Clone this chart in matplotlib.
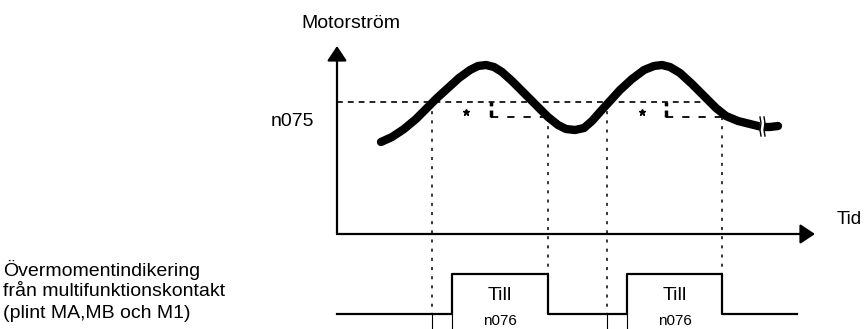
import matplotlib
matplotlib.use('Agg')
import matplotlib.pyplot as plt

plt.rcParams['font.family'] = ['Liberation Sans', 'DejaVu Sans']

# motor current curve (time, current)
curve_t = [44, 55, 67, 79, 90, 100, 111, 122, 133, 141, 149, 157, 165, 175, 187,
           199, 211, 221, 229, 238, 247, 255, 263, 273, 283, 295, 307, 317, 325,
           333, 343, 355, 367, 379, 389, 401, 413, 425, 433, 441]
curve_i = [92, 97, 105, 115, 126, 136, 146, 156, 164, 168, 169, 167, 162, 153, 141,
           129, 117, 109, 105, 104, 106, 113, 122, 133, 144, 155, 164, 168, 169,
           167, 161, 150, 138, 126, 118, 113, 110, 107, 107, 108]

n075_level = 132      # torque detection level
reset_level = 117     # level where the signal drops
up_times = [95, 270]      # curve crosses n075 going up
down_times = [211, 385]   # curve falls below reset level
n076_delay = 20
hyst_marks = [154, 329]
star_marks = [129, 305]
break_t = 425

sig_low = -80
sig_high = -40
time_end = 478
current_top = 188
sig_end = 460

fig = plt.figure(figsize=(8.64, 3.29), dpi=100)
ax = fig.add_axes([0, 0, 1, 1])
ax.set_xlim(-337, 527)
ax.set_ylim(-95, 234)
ax.axis('off')

# axes with arrows
arr = dict(arrowstyle='-|>,head_length=0.45,head_width=0.3', lw=1.6,
           color='black', mutation_scale=20, shrinkA=0, shrinkB=0)
ax.annotate('', xy=(0, current_top), xytext=(0, 0), arrowprops=arr)
ax.annotate('', xy=(time_end, 0), xytext=(0, 0), arrowprops=arr)

# threshold lines
ax.plot([0, 368], [n075_level, n075_level], color='black', lw=1.2,
        linestyle=(0, (3.5, 3)))
for h, d in zip(hyst_marks, down_times):
    ax.plot([h, d], [reset_level, reset_level], color='black', lw=1.3,
            linestyle=(0, (4, 5)))
    ax.plot([h, h], [reset_level, n075_level], color='black', lw=2.5,
            linestyle=(0, (2, 1.2)))
ax.plot(star_marks, [122, 122], linestyle='none', marker='*', ms=5,
        color='black')

# vertical timing lines
for u in up_times:
    ax.plot([u, u], [n075_level, sig_low], color='black', lw=1.1,
            linestyle=(0, (2, 4)))
    ax.plot([u, u], [sig_low, -95], color='black', lw=0.8)
    ax.plot([u + n076_delay, u + n076_delay], [sig_low, -95], color='black', lw=0.8)
for d in down_times:
    ax.plot([d, d], [reset_level, sig_high], color='black', lw=1.1,
            linestyle=(0, (2, 4)))

# current curve
ax.plot(curve_t, curve_i, color='black', lw=6, solid_capstyle='round',
        solid_joinstyle='round')
# break mark
ax.plot([break_t, break_t], [98, 118], color='white', lw=3)
ax.plot([break_t - 2, break_t - 1, break_t - 2, break_t - 1], [117, 111, 104, 98],
        color='black', lw=1)
ax.plot([break_t + 2, break_t + 3, break_t + 2, break_t + 3], [117, 111, 104, 98],
        color='black', lw=1)

# output signal
sig_t = [0]
sig_v = [sig_low]
for u, d in zip(up_times, down_times):
    on = u + n076_delay
    sig_t += [on, on, d, d]
    sig_v += [sig_low, sig_high, sig_high, sig_low]
sig_t.append(sig_end)
sig_v.append(sig_low)
ax.plot(sig_t, sig_v, color='black', lw=1.6)

for u, d in zip(up_times, down_times):
    mid = (u + n076_delay + d) / 2
    ax.text(mid, -62, 'Till', ha='center', va='center', fontsize=14)
    ax.text(mid, -87, 'n076', ha='center', va='center', fontsize=11)

ax.text(14, 211, 'Motorström', ha='center', va='center', fontsize=14)
ax.text(-23, 112, 'n075', ha='right', va='center', fontsize=14)
ax.text(500, 15, 'Tid', ha='left', va='center', fontsize=13.5)
ax.text(-334, -36, 'Övermomentindikering', ha='left', va='center', fontsize=14)
ax.text(-334, -58, 'från multifunktionskontakt', ha='left', va='center', fontsize=14)
ax.text(-334, -80, '(plint MA,MB och M1)', ha='left', va='center', fontsize=14)

fig.savefig('out.png', dpi=100)
